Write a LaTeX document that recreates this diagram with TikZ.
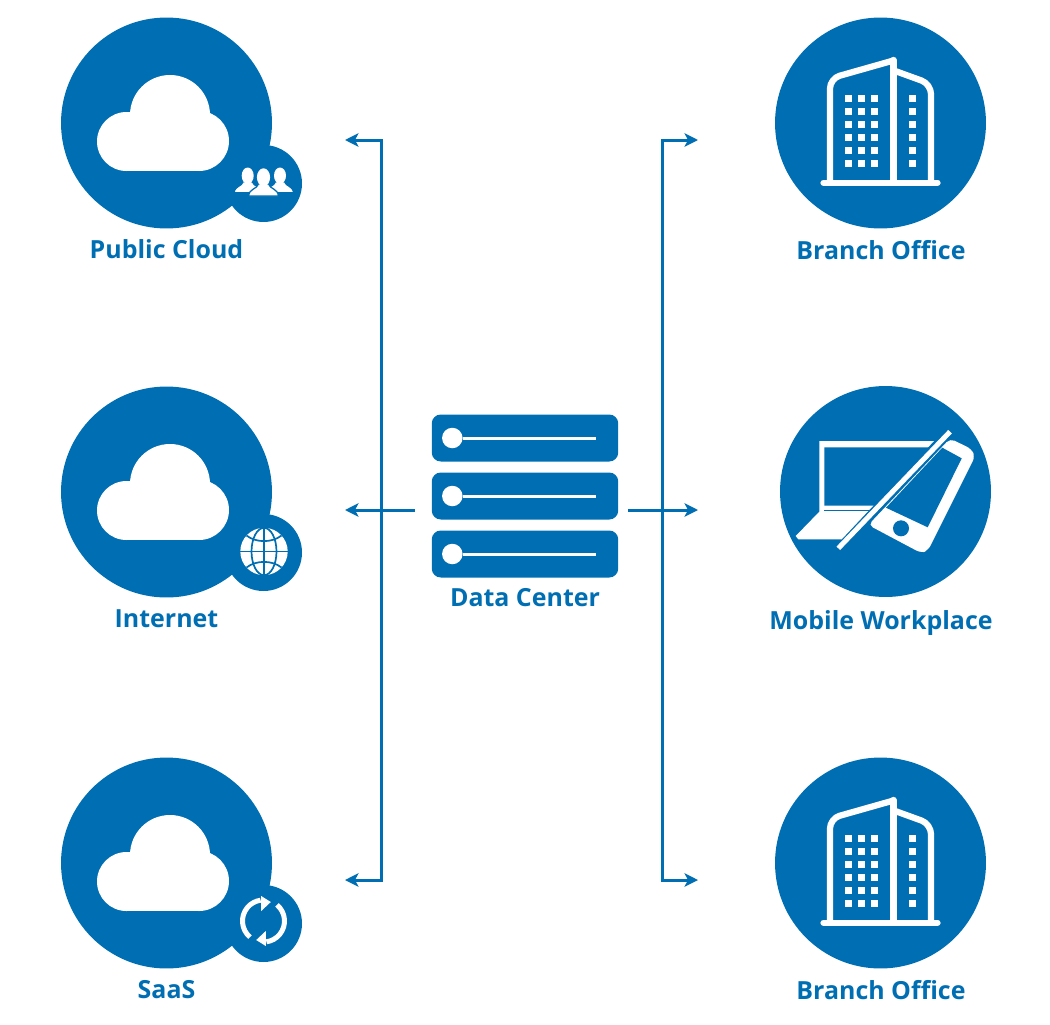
\documentclass[tikz,border=0pt]{standalone}
\usepackage{fontspec}
\setmainfont{Open Sans}
\usetikzlibrary{arrows.meta}
\definecolor{hubblue}{HTML}{006EB2}

\begin{document}
\begin{tikzpicture}[
    x=0.02cm, y=-0.02cm,
    >={Stealth[length=0.27cm, width=0.27cm, inset=0.07cm]},
    % --- Styles ---
    hub_circle/.style={circle, fill=hubblue, draw=none, minimum size=4.22cm, inner sep=0pt},
    badge_circle/.style={circle, fill=hubblue, draw=none, minimum size=1.54cm, inner sep=0pt},
    server_bar/.style={fill=hubblue, draw=none, minimum width=3.73cm, minimum height=0.94cm, rounded corners=0.18cm, inner sep=0pt},
    server_led/.style={circle, fill=white, draw=none, minimum size=0.41cm, inner sep=0pt},
    link_arrow/.style={<->, line width=0.06cm, color=hubblue},
    link_out/.style={->, line width=0.06cm, color=hubblue},
    label_text/.style={font=\fontsize{14.2}{17}\selectfont\bfseries, text=hubblue, inner sep=0pt},
    % --- Icons ---
    cloud_icon/.pic={
        \fill[white] (-40,18.5) circle[radius=29.5];
        \fill[white] (3.5,-8) circle[radius=40];
        \fill[white] (32.5,18) circle[radius=30];
        \fill[white] (-40,15) rectangle (32.5,48);
    },
    person_icon/.pic={
        \draw[fill=white, draw=hubblue, line width=0.025cm] (-13.5,0) .. controls (-13,-7) and (-6,-6) .. (-4.5,-11)
            -- (4.5,-11) .. controls (6,-6) and (13,-7) .. (13.5,0) -- cycle;
        \fill[white] (0,-17) ellipse[x radius=6, y radius=8.2];
    },
    building_icon/.pic={
        \draw[white, line width=0.125cm, line cap=round] (-57,59.7) -- (57,59.7);
        \draw[white, line width=0.125cm, rounded corners=0.2cm] (-50.5,59.7) -- (-50.5,-44.5) -- (13,-62.5);
        \draw[white, line width=0.125cm, line cap=round] (13,59.7) -- (13,-63);
        \draw[white, line width=0.125cm, rounded corners=0.2cm] (15.5,-51.7) -- (50.5,-39) -- (50.5,59.7);
        \foreach \col in {-31.8,-18.8,-6.2,31.8}
            \foreach \row in {-24.3,-11.7,1.3,14,27,40}
                \fill[white] (\col-3.5,\row-3.5) rectangle (\col+3.5,\row+3.5);
    },
]

    % ==========================
    % 1. CLOUDS (Left)
    % ==========================
    \node[hub_circle] (pub_hub) at (166.5,123) {};
    \node[badge_circle] (pub_badge) at (263.5,183.5) {};
    \pic at (pub_hub.center) {cloud_icon};
    \pic at (247.7,192.7) {person_icon};
    \pic at (280,192.7) {person_icon};
    \pic[scale=1.1] at (263.5,196) {person_icon};
    \node[label_text] (pub_label) at (166.5,249) {Public Cloud};

    \node[hub_circle] (net_hub) at (166.5,492) {};
    \node[badge_circle] (net_badge) at (263.5,552.5) {};
    \pic at (net_hub.center) {cloud_icon};
    \begin{scope}[shift={(264,551.5)}]
        \fill[white] (0,0) circle[radius=23.7];
        \begin{scope}[line width=0.034cm, hubblue]
            \draw (0,-23.7) -- (0,23.7);
            \draw (-23.7,0) -- (23.7,0);
            \draw (0,0) ellipse[x radius=12.5, y radius=23.7];
            \draw (-17.5,-16) .. controls (-8,-8.5) and (8,-8.5) .. (17.5,-16);
            \draw (-17.5,16) .. controls (-8,8.5) and (8,8.5) .. (17.5,16);
        \end{scope}
    \end{scope}
    \node[label_text] (net_label) at (166.5,619) {Internet};

    \node[hub_circle] (saas_hub) at (166.5,863) {};
    \node[badge_circle] (saas_badge) at (263.5,923.5) {};
    \pic at (saas_hub.center) {cloud_icon};
    \foreach \turn in {0,180} {
        \begin{scope}[shift={(263.5,921)}, rotate=\turn]
            \draw[white, line width=0.1cm] (130:21) arc[start angle=130, end angle=262, radius=21];
            \fill[white] (7.3,-19) -- (-2.3,-25) -- (-2.3,-10) -- cycle;
        \end{scope}
    }
    \node[label_text] (saas_label) at (166.5,990) {SaaS};

    % ==========================
    % 2. DATA CENTER (Middle)
    % ==========================
    \node[server_bar] (rack_a) at (525,438) {};
    \node[server_bar] (rack_b) at (525,496) {};
    \node[server_bar] (rack_c) at (525,554) {};
    \node[server_led] (led_a) at (452.3,438) {};
    \node[server_led] (led_b) at (452.3,496) {};
    \node[server_led] (led_c) at (452.3,554) {};
    \coordinate (slot_a) at (596.3,438);
    \coordinate (slot_b) at (596.3,496);
    \coordinate (slot_c) at (596.3,554);
    \draw[white, line width=0.06cm] (led_a) -- (slot_a);
    \draw[white, line width=0.06cm] (led_b) -- (slot_b);
    \draw[white, line width=0.06cm] (led_c) -- (slot_c);
    \node[label_text] (dc_label) at (525,598) {Data Center};

    % Links
    \coordinate (left_start) at (415,510);
    \coordinate (left_mid) at (345,510);
    \coordinate (left_top) at (345,140);
    \coordinate (left_bot) at (345,880);
    \coordinate (left_bus_top) at (381.3,140);
    \coordinate (left_bus_bot) at (381.3,880);
    \draw[link_out] (left_start) -- (left_mid);
    \draw[link_arrow] (left_top) -- (left_bus_top) -- (left_bus_bot) -- (left_bot);

    \coordinate (right_start) at (628.3,510);
    \coordinate (right_mid) at (698,510);
    \coordinate (right_top) at (698,140);
    \coordinate (right_bot) at (698,880);
    \coordinate (right_bus_top) at (662,140);
    \coordinate (right_bus_bot) at (662,880);
    \draw[link_out] (right_start) -- (right_mid);
    \draw[link_arrow] (right_top) -- (right_bus_top) -- (right_bus_bot) -- (right_bot);

    % ==========================
    % 3. OFFICES (Right)
    % ==========================
    \node[hub_circle] (branch_a_hub) at (880.5,123) {};
    \pic at (branch_a_hub.center) {building_icon};
    \node[label_text] (branch_a_label) at (881,250) {Branch Office};

    \node[hub_circle] (mobile_hub) at (885.5,491.5) {};
    % Laptop
    \fill[white] (819.3,441) -- (934,441) -- (841.7,539.3) -- (798.3,539.3) -- (795.7,536) -- (819.3,511.7) -- cycle;
    \fill[hubblue] (824.3,447.3) -- (936,447.3) -- (882,505.7) -- (824.3,505.7) -- cycle;
    \fill[hubblue] (824.3,510) rectangle (872,511);
    % Divider
    \draw[white, line width=0.1cm] (838.3,548.3) -- (950,431.7);
    % Phone
    \fill[white, rounded corners=0.1cm] (950,438.5) -- (971.5,449) -- (975,456.7) -- (928,550.5) -- (921,553) -- (868.3,525) -- cycle;
    \fill[hubblue] (961.7,458.3) -- (927.7,527.3) -- (886,507.7) -- (942.3,447.7) -- cycle;
    \fill[hubblue] (901,528.3) circle[radius=8];
    \node[label_text] (mobile_label) at (881,623.5) {Mobile Workplace};

    \node[hub_circle] (branch_b_hub) at (880.5,863) {};
    \pic at (branch_b_hub.center) {building_icon};
    \node[label_text] (branch_b_label) at (881,990) {Branch Office};

    \useasboundingbox (0,0) rectangle (1050,1024);

\end{tikzpicture}
\end{document}
